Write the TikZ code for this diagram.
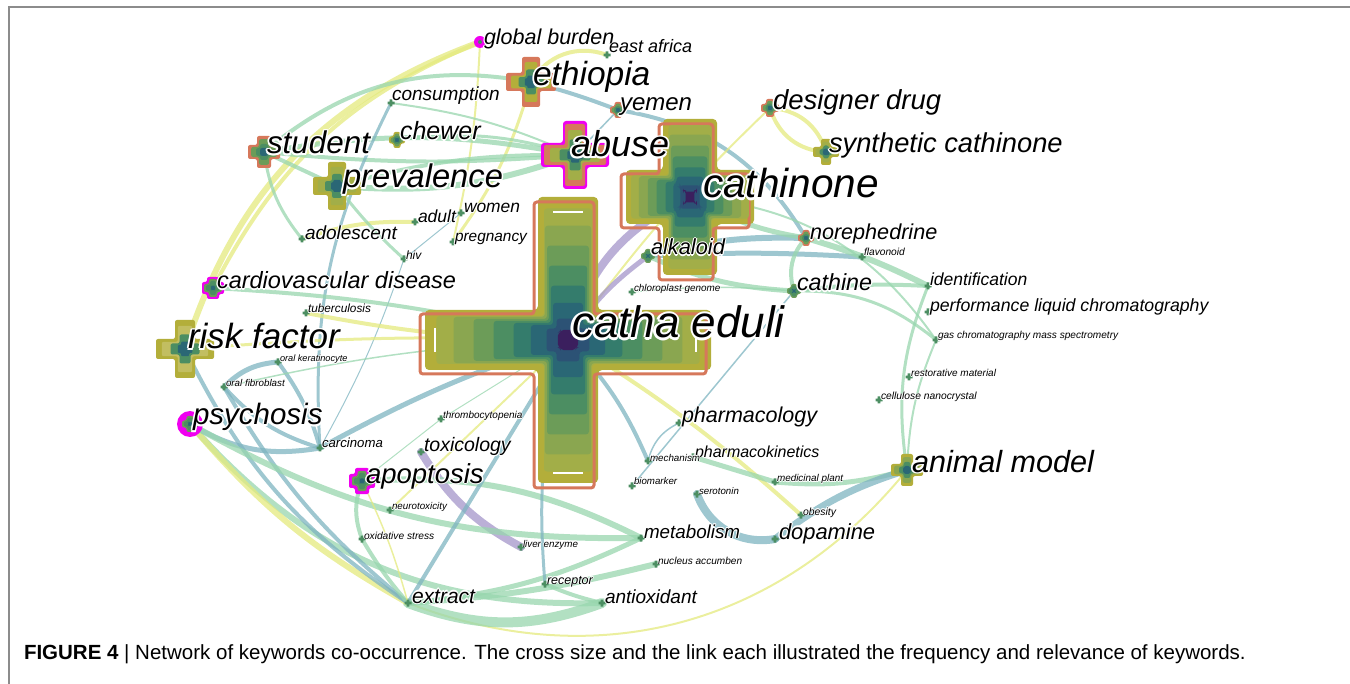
\documentclass[tikz,border=0pt]{standalone}
\usepackage{fontspec}
\setmainfont{Liberation Sans}
\usetikzlibrary{calc}
\definecolor{edgeY}{HTML}{E4EA7E}
\definecolor{edgeG}{HTML}{98D6AE}
\definecolor{edgeT}{HTML}{7EB4C0}
\definecolor{edgeP}{HTML}{A496CA}
\definecolor{cA}{HTML}{B3AE3A}
\definecolor{cB}{HTML}{A2AE48}
\definecolor{cC}{HTML}{8AA650}
\definecolor{cD}{HTML}{6C9C58}
\definecolor{cE}{HTML}{4C8E62}
\definecolor{cF}{HTML}{347C6C}
\definecolor{cG}{HTML}{2A6775}
\definecolor{cH}{HTML}{2C5275}
\definecolor{cI}{HTML}{3B1F5E}
\definecolor{ringO}{HTML}{D6785B}
\definecolor{magX}{HTML}{F000F0}
\definecolor{frameC}{HTML}{8C8C8C}
\tikzset{
  lbl/.style={anchor=base west, inner sep=0pt, outer sep=0pt, text=black},
  edge/.style={line cap=round, draw opacity=.75},
  ey/.style={edge, draw=edgeY},
  eg/.style={edge, draw=edgeG},
  et/.style={edge, draw=edgeT},
  ep/.style={edge, draw=edgeP},
}
% white halo round a label
\newcommand\hcopy[3]{\rlap{\hspace*{#1}\raisebox{#2}{\textcolor{white}{#3}}}}
\newcommand\halo[1]{\hcopy{.05em}{0em}{#1}\hcopy{-.05em}{0em}{#1}\hcopy{0em}{.05em}{#1}\hcopy{0em}{-.05em}{#1}%
  \hcopy{.035em}{.035em}{#1}\hcopy{-.035em}{.035em}{#1}\hcopy{.035em}{-.035em}{#1}\hcopy{-.035em}{-.035em}{#1}#1}
% keyword point
\newcommand\kp[3]{\coordinate (#1) at (#2,-#3);}
% keyword label
\newcommand\kl[5]{\node[lbl,font=\fontsize{#4}{#4}\selectfont\itshape] (#1-t) at (#2,-#3) {\halo{#5}};}
% cross: position, half length h, half length v, half width, style
\newcommand\xcr[5]{\path[#5] ([shift={(-#2,-#4)}]#1) -- ([shift={(-#4,-#4)}]#1) -- ([shift={(-#4,-#3)}]#1) -- ([shift={(#4,-#3)}]#1) -- ([shift={(#4,-#4)}]#1) -- ([shift={(#2,-#4)}]#1) -- ([shift={(#2,#4)}]#1) -- ([shift={(#4,#4)}]#1) -- ([shift={(#4,#3)}]#1) -- ([shift={(-#4,#3)}]#1) -- ([shift={(-#4,#4)}]#1) -- ([shift={(-#2,#4)}]#1) -- cycle;}
% layered big cross: position, Lh, Lv, W
\newcommand\bigx[4]{%
  \xcr{#1}{#2}{#3}{#4}{fill=cA,rounded corners=4}
  \xcr{#1}{#2-5}{#3-5}{#4-4}{draw=ringO,line width=3,rounded corners=3}
  \foreach \f/\g/\c in {.92/.8/cB,.8/.77/cC,.66/.7/cD,.52/.64/cE,.38/.57/cF,.26/.5/cG,.15/.38/cH,.07/.25/cI}
    {\xcr{#1}{\f*#2}{\f*#3}{\g*#4}{fill=\c,rounded corners=3}}
}
% medium cross: position, L, W, outer colour, middle colour
\newcommand\midx[5]{%
  \xcr{#1}{#2}{#2}{#3}{fill=#4,rounded corners=2}
  \xcr{#1}{.8*#2}{.8*#2}{.72*#3}{fill=#5,rounded corners=2}
  \xcr{#1}{.5*#2}{.5*#2}{.55*#3}{fill=cE,rounded corners=2}
  \xcr{#1}{.25*#2}{.25*#2}{.4*#3}{fill=cG,rounded corners=1}
}
\begin{document}
\begin{tikzpicture}[x=1pt,y=1pt]
\useasboundingbox (0,0) rectangle (1350,-684);
\draw[frameC,line width=1.3] (9,-684) -- (9,-7) -- (1350,-7);
% ---------- keyword points
\kp{ce}{568}{340} \kp{cn}{690}{197} \kp{gb}{480}{42} \kp{ea}{607}{55}
\kp{et}{531}{82} \kp{co}{391}{103} \kp{ye}{618}{110} \kp{dd}{770}{108}
\kp{sc}{826}{152} \kp{st}{264}{152} \kp{ch}{397}{140} \kp{ab}{575}{155}
\kp{pr}{337}{186} \kp{no}{806}{238} \kp{fl}{862}{257} \kp{ad}{302}{239}
\kp{au}{415}{222} \kp{wo}{461}{213} \kp{pg}{453}{242} \kp{hi}{404}{259}
\kp{al}{648}{256} \kp{id}{928}{286} \kp{ca}{794}{291} \kp{cv}{213}{288}
\kp{cg}{632}{292} \kp{tu}{306}{313} \kp{pl}{928}{312} \kp{rf}{185}{349}
\kp{gc}{936}{340} \kp{ok}{278}{362} \kp{rm}{909}{377} \kp{of}{224}{387}
\kp{cl}{879}{400} \kp{ps}{190}{424} \kp{th}{441}{419} \kp{ph}{679}{423}
\kp{cc}{320}{448} \kp{tx}{421}{452} \kp{pk}{693}{457} \kp{me}{648}{461}
\kp{ap}{362}{481} \kp{am}{907}{470} \kp{mp}{775}{482} \kp{bi}{632}{486}
\kp{se}{697}{494} \kp{nt}{390}{510} \kp{ob}{801}{515} \kp{mt}{641}{538}
\kp{le}{521}{547} \kp{dp}{775}{539} \kp{os}{362}{539} \kp{na}{656}{564}
\kp{rc}{545}{584} \kp{ex}{408}{603} \kp{an}{602}{603}
% ---------- links
\draw[ey,line width=6] (gb) to[bend right=26] (rf);
\draw[ey,line width=4] (gb) to[bend right=20] (cv);
\draw[ey,line width=2] (gb) to[bend left=5] (pg);
\draw[ey,line width=4] (ea) to[bend right=40] (et);
\draw[ey,line width=3] (et) to[bend left=10] (pg);
\draw[eg,line width=4] (st) to[bend left=25] (et);
\draw[eg,line width=5] (st) to[bend left=10] (ab);
\draw[eg,line width=4] (st) to[bend right=5] (ab);
\draw[eg,line width=4] (st) -- (pr);
\draw[eg,line width=6] (pr) to[bend right=12] (ab);
\draw[eg,line width=4] (pr) to[bend left=8] (ab);
\draw[eg,line width=3] (ch) to[bend left=12] (ab);
\draw[eg,line width=2] (co) to[bend left=8] (ab);
\draw[et,line width=3] (co) to[bend right=15] (cc);
\draw[et,line width=4] (et) to[bend left=3] (ye);
\draw[et,line width=4] (ye) to[bend left=25] (no);
\draw[et,line width=1.5] (ab) -- (ye);
\draw[ey,line width=4] (dd) to[bend left=35] (sc);
\draw[ey,line width=4] (dd) to[bend right=35] (sc);
\draw[ey,line width=2] (dd) to[bend right=5] (ce);
\draw[ep,line width=8] (cn) to[bend right=25] (ce);
\draw[ep,line width=5] (al) to[bend right=10] (ce);
\draw[et,line width=6] (al) to[bend left=8] (no);
\draw[et,line width=5] (al) to[bend left=3] (fl);
\draw[eg,line width=5] (al) to[bend right=10] (ca);
\draw[eg,line width=5] (cn) to[bend right=10] (no);
\draw[eg,line width=4] (no) to[bend right=30] (ca);
\draw[eg,line width=6] (no) to[bend left=5] (id);
\draw[eg,line width=4] (ca) to[bend left=5] (id);
\draw[eg,line width=2] (cn) to[bend left=25] (gc);
\draw[eg,line width=3] (ca) to[bend left=20] (gc);
\draw[eg,line width=3] (id) to[bend right=15] (am);
\draw[eg,line width=2] (gc) to[bend right=10] (am);
\draw[eg,line width=1.5] (cg) to[bend left=5] (ca);
\draw[et,line width=1.5] (ca) -- (bi);
\draw[ey,line width=4] (ce) to[bend left=5] (ob);
\draw[et,line width=1.5] (ph) to[bend right=25] (me);
\draw[eg,line width=5] (pk) -- (mp);
\draw[eg,line width=5] (mp) to[bend right=10] (am);
\draw[et,line width=8] (se) to[bend right=40] (dp);
\draw[et,line width=7] (dp) to[bend left=10] (am);
\draw[ey,line width=2] (ex) to[bend right=36] (am);
\draw[eg,line width=10] (ex) to[bend right=20] (an);
\draw[eg,line width=6] (ps) to[bend right=25] (an);
\draw[ey,line width=6] (ps) to[bend right=10] (ex);
\draw[et,line width=4] (rf) to[bend right=15] (ex);
\draw[et,line width=4] (of) to[bend right=10] (ex);
\draw[et,line width=5] (ok) to[bend right=20] (of);
\draw[et,line width=4] (of) to[bend right=15] (cc);
\draw[et,line width=4] (ok) to[bend left=10] (cc);
\draw[et,line width=5] (ps) to[bend right=20] (cc);
\draw[et,line width=1] (cc) to[bend right=5] (hi);
\draw[et,line width=1] (hi) -- (wo);
\draw[eg,line width=1.5] (of) to[bend left=5] (ce);
\draw[eg,line width=4] (cv) to[bend left=5] (ce);
\draw[ey,line width=4] (tu) to[bend right=5] (ce);
\draw[ey,line width=3] (rf) to[bend left=3] (ce);
\draw[et,line width=5] (cc) to[bend left=5] (ce);
\draw[eg,line width=1] (ap) -- (th);
\draw[eg,line width=1] (th) -- (ce);
\draw[ep,line width=8] (tx) to[bend right=15] (le);
\draw[eg,line width=6] (ap) to[bend left=15] (mt);
\draw[eg,line width=6] (mt) to[bend left=15] (ps);
\draw[eg,line width=5] (mt) to[bend left=10] (ex);
\draw[et,line width=4] (ce) -- (ex);
\draw[eg,line width=4] (ap) to[bend right=20] (os);
\draw[eg,line width=4] (os) to[bend right=5] (ex);
\draw[ey,line width=1.5] (ap) to[bend left=5] (ex);
\draw[ey,line width=2] (nt) -- (ce);
\draw[eg,line width=6] (na) to[bend left=5] (ex);
\draw[eg,line width=4] (rc) to[bend right=5] (an);
\draw[et,line width=4] (me) to[bend right=10] (ce);
\draw[et,line width=3] (ce) to[bend right=10] (rc);
\draw[eg,line width=3] (st) to[bend right=15] (ad);
\draw[ey,line width=4] (ad) to[bend left=10] (au);
\draw[eg,line width=3] (pr) to[bend right=5] (hi);
% ---------- crosses
\bigx{ce}{143}{143}{30}
\path[draw=white,line width=2] ([shift={(-15,-133)}]ce) -- ([shift={(15,-133)}]ce)
  ([shift={(-15,128)}]ce) -- ([shift={(15,128)}]ce)
  ([shift={(-133,-12)}]ce) -- ([shift={(-133,12)}]ce)
  ([shift={(128,-12)}]ce) -- ([shift={(128,12)}]ce);
\bigx{cn}{64}{78}{27}
\midx{et}{25}{9}{ringO}{cA}
\xcr{ab}{34}{34}{12}{fill=magX,rounded corners=3}
\midx{ab}{31}{10}{ringO}{cB}
\midx{st}{16}{7}{ringO}{cD}
\midx{pr}{24}{9}{cA}{cB}
\midx{rf}{29}{10}{cA}{cA!80!white}
\midx{am}{16}{6}{cA}{cC}
\midx{sc}{13}{5}{cA}{cB}
\midx{dd}{9}{4}{ringO}{cD}
\midx{ye}{8}{3.5}{ringO}{cD}
\midx{ch}{8}{3.5}{cA}{cD}
\midx{no}{8}{3.5}{ringO}{cD}
\midx{al}{7}{3}{cD}{cE}
\midx{ca}{7}{3}{cD}{cE}
\xcr{cv}{11}{11}{6}{fill=magX,rounded corners=2}
\midx{cv}{9}{4}{cD}{cE}
\fill[magX] (ps) circle (13);
\midx{ps}{8}{3.5}{cD}{cE}
\xcr{ap}{13}{13}{7}{fill=magX,rounded corners=2}
\midx{ap}{10}{4.5}{cD}{cE}
\fill[magX] (gb) circle (6);
\fill[cE] (gb) circle (2);
\foreach \n in {co,fl,ad,au,wo,pg,hi,id,cg,tu,pl,gc,ok,rm,of,cl,th,ph,cc,tx,pk,me,mp,bi,se,nt,ob,mt,le,dp,os,na,rc,ex,an,ea}
  {\xcr{\n}{3.5}{3.5}{1.4}{fill=cE}}
% ---------- labels
\kl{ce}{572}{338}{44}{catha eduli}
\kl{cn}{703}{198}{40.5}{cathinone}
\kl{gb}{484}{45}{21.5}{global burden}
\kl{ea}{609}{53}{18}{east africa}
\kl{et}{533}{86}{33.5}{ethiopia}
\kl{co}{392}{101}{19}{consumption}
\kl{ye}{620}{111}{24}{yemen}
\kl{dd}{773}{110}{27.5}{designer drug}
\kl{sc}{829}{153}{27.3}{synthetic cathinone}
\kl{st}{267}{154}{31.4}{student}
\kl{ch}{400}{140}{25}{chewer}
\kl{ab}{571}{157}{36}{abuse}
\kl{pr}{343}{188}{32.7}{prevalence}
\kl{no}{810}{240}{21.6}{norephedrine}
\kl{fl}{864}{256}{10.2}{flavonoid}
\kl{ad}{305}{240}{19}{adolescent}
\kl{au}{418}{223}{17.5}{adult}
\kl{wo}{464}{213}{17.4}{women}
\kl{pg}{455}{242}{15.4}{pregnancy}
\kl{hi}{406}{260}{12}{hiv}
\kl{al}{651}{255}{21.8}{alkaloid}
\kl{id}{930}{286}{17.5}{identification}
\kl{ca}{797}{291}{23.3}{cathine}
\kl{cv}{217}{289}{23.5}{cardiovascular disease}
\kl{cg}{634}{292}{9.9}{chloroplast genome}
\kl{tu}{308}{313}{11.8}{tuberculosis}
\kl{pl}{930}{312}{17.7}{performance liquid chromatography}
\kl{rf}{188}{349}{35}{risk factor}
\kl{gc}{938}{339}{10.1}{gas chromatography mass spectrometry}
\kl{ok}{280}{362}{9.2}{oral keratinocyte}
\kl{rm}{911}{377}{10}{restorative material}
\kl{of}{226}{387}{9.8}{oral fibroblast}
\kl{cl}{881}{400}{10.3}{cellulose nanocrystal}
\kl{ps}{193}{425}{29.5}{psychosis}
\kl{th}{443}{419}{10}{thrombocytopenia}
\kl{ph}{682}{423}{21.5}{pharmacology}
\kl{cc}{322}{448}{13.2}{carcinoma}
\kl{tx}{424}{452}{19.5}{toxicology}
\kl{pk}{695}{457}{16}{pharmacokinetics}
\kl{me}{650}{461}{9.8}{mechanism}
\kl{ap}{366}{483}{27.5}{apoptosis}
\kl{am}{912}{472}{30.6}{animal model}
\kl{mp}{777}{482}{9.9}{medicinal plant}
\kl{bi}{634}{485}{9.7}{biomarker}
\kl{se}{699}{494}{9.7}{serotonin}
\kl{nt}{392}{510}{9.8}{neurotoxicity}
\kl{ob}{803}{515}{10.4}{obesity}
\kl{mt}{644}{538}{18.8}{metabolism}
\kl{le}{523}{547}{9.8}{liver enzyme}
\kl{dp}{779}{539}{21.9}{dopamine}
\kl{os}{364}{539}{10.2}{oxidative stress}
\kl{na}{658}{564}{10.1}{nucleus accumben}
\kl{rc}{547}{584}{12.5}{receptor}
\kl{ex}{412}{603}{21}{extract}
\kl{an}{605}{603}{19}{antioxidant}
% ---------- caption
\node[lbl,font=\fontsize{20.5}{20.5}\selectfont] (cap) at (24,-659)
  {\textbf{FIGURE 4} | Network of keywords co-occurrence. The cross size and the link each illustrated the frequency and relevance of keywords.};
\end{tikzpicture}
\end{document}
